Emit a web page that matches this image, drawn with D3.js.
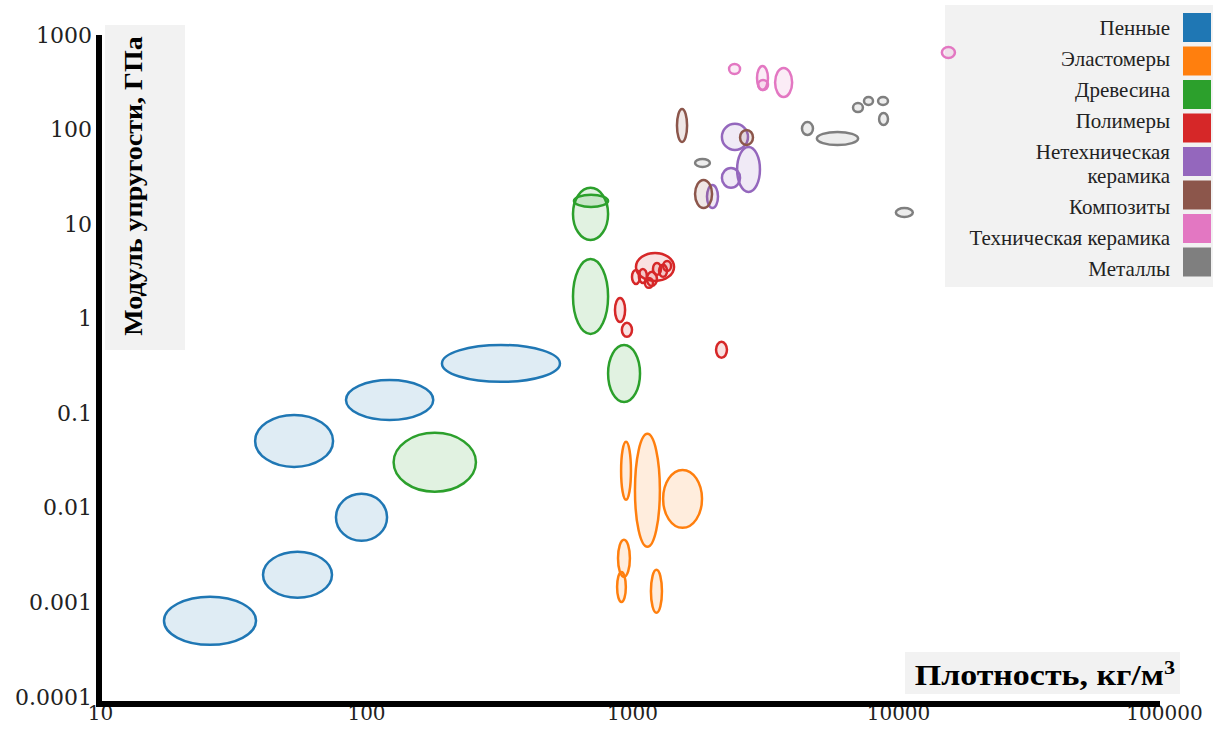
<!DOCTYPE html>
<html>
<head>
    <meta charset="utf-8">
    <title>Модуль упругости — плотность</title>
    <style>
        html, body {
            margin: 0;
            background: #ffffff;
        }
        svg { display: block; }
    </style>
    <script src="https://d3js.org/d3.v7.min.js"></script>
</head>
<body>
    <svg id="chart"></svg>
    <script>
        // материалы: [плотность min, плотность max, модуль min, модуль max]
        const categories = ["Пенные", "Эластомеры", "Древесина", "Полимеры",
            "Нетехническая керамика", "Композиты", "Техническая керамика", "Металлы"];
        const legendLines = [["Пенные"], ["Эластомеры"], ["Древесина"], ["Полимеры"],
            ["Нетехническая", "керамика"], ["Композиты"], ["Техническая керамика"], ["Металлы"]];
        const colors = ["#1f77b4", "#ff7f0e", "#2ca02c", "#d62728",
            "#9467bd", "#8c564b", "#e377c2", "#7f7f7f"];

        const foams = [
            [17.4, 38.6, 0.000356, 0.00115],
            [41.0, 74.5, 0.00112, 0.00343],
            [77.1, 120, 0.00448, 0.0141],
            [38.3, 75.2, 0.0271, 0.0962],
            [84.1, 179, 0.0851, 0.225],
            [193, 536, 0.215, 0.528]
        ];
        const elastomers = [
            [910, 991, 0.0122, 0.0499],
            [1026, 1273, 0.00387, 0.0606],
            [1309, 1833, 0.00615, 0.0252],
            [886, 982, 0.00187, 0.00459],
            [879, 948, 0.00101, 0.00210],
            [1178, 1296, 0.000776, 0.00221]
        ];
        const woods = [
            [127, 259, 0.0148, 0.0621],
            [600, 813, 0.690, 4.28],
            [813, 1072, 0.132, 0.528],
            [600, 813, 6.81, 24.2],
            [605, 813, 15.2, 20.4]
        ];
        const polymers = [
            [1035, 1439, 2.51, 4.96],
            [1061, 1137, 2.39, 3.36],
            [1137, 1241, 2.22, 3.13],
            [1199, 1285, 2.91, 3.89],
            [1264, 1355, 2.77, 3.71],
            [1309, 1403, 3.20, 4.08],
            [1000, 1072, 2.33, 3.28],
            [1118, 1199, 2.12, 2.70],
            [863, 942, 0.925, 1.66],
            [916, 1000, 0.643, 0.904],
            [2070, 2275, 0.386, 0.569]
        ];
        const nonTechCeramics = [
            [2178, 2729, 60.8, 115],
            [2484, 3027, 21.9, 65.5],
            [2178, 2548, 24.2, 39.3],
            [1914, 2105, 14.8, 25.9]
        ];
        const composites = [
            [1476, 1611, 74.0, 165],
            [1726, 2000, 14.8, 29.3],
            [2548, 2850, 68.7, 99.0]
        ];
        const techCeramics = [
            [2317, 2548, 387, 493],
            [2951, 3245, 262, 470],
            [2979, 3245, 262, 334],
            [3451, 4000, 221, 448],
            [14620, 16370, 571, 747]
        ];
        const metals = [
            [1726, 1963, 40.3, 48.9],
            [4355, 4790, 87.7, 120],
            [4955, 7080, 68.7, 94.4],
            [6775, 7380, 153, 191],
            [7450, 8055, 182, 221],
            [8415, 9170, 182, 221],
            [8490, 9170, 112, 150],
            [9815, 11370, 11.9, 14.8]
        ];
        const groups = [foams, elastomers, woods, polymers, nonTechCeramics, composites, techCeramics, metals];

        const xTicks = [10, 100, 1000, 10000, 100000];
        const yTicks = [0.0001, 0.001, 0.01, 0.1, 1, 10, 100, 1000];

        const width = 1213, height = 729;
        const svg = d3.select("#chart").attr("width", width).attr("height", height);

        svg.append("rect").attr("width", width).attr("height", height).attr("fill", "#ffffff");

        // светлые подложки (как в оригинале)
        svg.append("rect").attr("x", 105).attr("y", 25).attr("width", 80).attr("height", 325).attr("fill", "#f2f2f2");
        svg.append("rect").attr("x", 945).attr("y", 5).attr("width", 268).attr("height", 282).attr("fill", "#f2f2f2");
        svg.append("rect").attr("x", 905).attr("y", 652).attr("width", 275).attr("height", 42).attr("fill", "#f2f2f2");

        const x = d3.scaleLog().domain([10, 100000]).range([100, 1164]);
        const y = d3.scaleLog().domain([0.0001, 1000]).range([697, 35]);
        const axisY = 704, axisX = 99;

        // эллипсы
        groups.forEach(function(list, i) {
            svg.append("g")
                .selectAll("ellipse")
                .data(list)
                .enter()
                .append("ellipse")
                .attr("cx", d => x(Math.sqrt(d[0] * d[1])))
                .attr("cy", d => y(Math.sqrt(d[2] * d[3])))
                .attr("rx", d => (x(d[1]) - x(d[0])) / 2)
                .attr("ry", d => (y(d[2]) - y(d[3])) / 2)
                .attr("fill", colors[i])
                .attr("fill-opacity", 0.14)
                .attr("stroke", colors[i])
                .attr("stroke-width", 2.5);
        });

        // оси
        const gx = svg.append("g")
            .attr("transform", "translate(0," + axisY + ")")
            .call(d3.axisBottom(x).tickValues(xTicks).tickFormat(d3.format("d")).tickSize(0).tickPadding(2));
        gx.select(".domain").remove();
        gx.selectAll("text").attr("font-family", "DejaVu Serif").attr("font-size", "20px").attr("fill", "#222");

        const gy = svg.append("g")
            .attr("transform", "translate(" + axisX + ",0)")
            .call(d3.axisLeft(y).tickValues(yTicks).tickFormat(d => String(d)).tickSize(0).tickPadding(7));
        gy.select(".domain").remove();
        gy.selectAll("text").attr("font-family", "DejaVu Serif").attr("font-size", "22px").attr("fill", "#222");

        svg.append("line")
            .attr("x1", axisX).attr("x2", axisX)
            .attr("y1", y(1000)).attr("y2", axisY + 3)
            .attr("stroke", "#000").attr("stroke-width", 6);
        svg.append("line")
            .attr("x1", axisX - 3).attr("x2", x(100000) - 4)
            .attr("y1", axisY).attr("y2", axisY)
            .attr("stroke", "#000").attr("stroke-width", 6);

        // подписи осей
        svg.append("text")
            .attr("transform", "translate(142,186) rotate(-90) scale(1.12,1)")
            .attr("text-anchor", "middle")
            .attr("font-family", "Liberation Serif")
            .attr("font-weight", "bold")
            .attr("font-size", "25px")
            .text("Модуль упругости, ГПа");

        const xt = svg.append("text")
            .attr("transform", "translate(1175,685) scale(1.17,1)")
            .attr("text-anchor", "end")
            .attr("font-family", "Liberation Serif")
            .attr("font-weight", "bold")
            .attr("font-size", "29px");
        xt.append("tspan").text("Плотность, кг/м");
        xt.append("tspan").attr("dy", -11).attr("font-size", "19px").text("3");

        // легенда
        const legend = svg.append("g");
        legend.selectAll("rect")
            .data(categories)
            .enter()
            .append("rect")
            .attr("x", 1183)
            .attr("y", (d, i) => 13 + i * 33.5)
            .attr("width", 28)
            .attr("height", 29)
            .attr("fill", (d, i) => colors[i]);

        let extra = 0;
        legendLines.forEach(function(lines, i) {
            lines.forEach(function(line, j) {
                legend.append("text")
                    .attr("x", 1170)
                    .attr("y", 28 + i * 31 + (extra + j) * 24)
                    .attr("dy", "0.35em")
                    .attr("text-anchor", "end")
                    .attr("font-family", "Liberation Serif")
                    .attr("font-size", "21px")
                    .attr("fill", "#222")
                    .text(line);
            });
            extra += lines.length - 1;
        });
    </script>
</body>
</html>
